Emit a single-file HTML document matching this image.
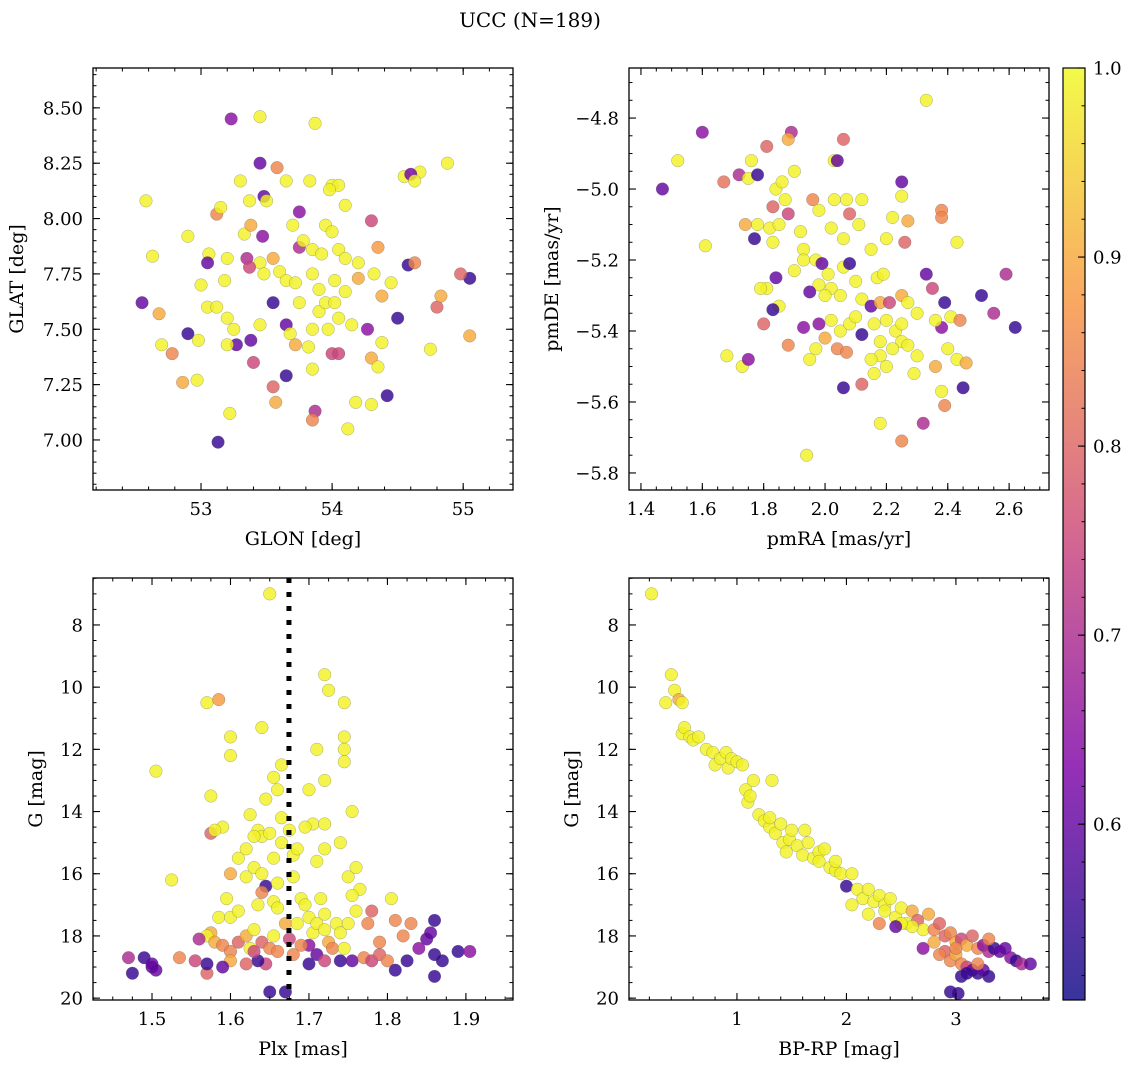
<!DOCTYPE html>
<html><head><meta charset="utf-8"><style>
html,body{margin:0;padding:0;background:#fff;}
svg{display:block;font-family:"DejaVu Serif","Liberation Serif",serif;}
</style></head><body>
<svg id="chart" width="1136" height="1067" viewBox="0 0 1136 1067" xmlns="http://www.w3.org/2000/svg">
<text x="530" y="27" font-size="20" text-anchor="middle">UCC (N=189)</text>
</svg>
<script>
// ---- data: [x, y, membership probability] ----
const glonGlat = [[53.23,8.45,0.65],[53.45,8.46,0.99],[53.87,8.43,0.99],[53.45,8.25,0.6],[53.58,8.23,0.85],[54.67,8.21,0.99],[54.88,8.25,0.99],[54.55,8.19,0.99],[54.6,8.2,0.62],[54.63,8.17,0.99],[52.58,8.08,0.99],[53.3,8.17,0.99],[53.65,8.17,0.99],[53.83,8.17,0.99],[53.48,8.1,0.6],[53.37,8.08,0.99],[53.5,8.08,0.99],[53.12,8.02,0.85],[53.15,8.05,0.99],[53.75,8.03,0.65],[54.0,8.15,0.99],[54.05,8.15,0.99],[53.98,8.13,0.99],[52.9,7.92,0.99],[53.06,7.84,0.99],[53.33,7.93,0.99],[53.38,7.97,0.9],[53.47,7.92,0.65],[53.7,7.97,0.99],[53.95,7.97,0.99],[54.1,8.06,0.99],[54.3,7.99,0.75],[54.0,7.94,0.99],[52.63,7.83,0.99],[53.05,7.8,0.6],[53.2,7.82,0.99],[53.35,7.82,0.7],[53.45,7.8,0.99],[53.55,7.82,0.9],[53.75,7.87,0.7],[53.78,7.9,0.99],[53.85,7.86,0.99],[53.92,7.84,0.99],[54.05,7.86,0.99],[54.1,7.82,0.99],[54.2,7.8,0.99],[54.35,7.87,0.88],[54.58,7.79,0.55],[54.63,7.8,0.85],[52.55,7.62,0.6],[52.68,7.57,0.9],[53.0,7.7,0.99],[53.18,7.72,0.99],[53.37,7.78,0.75],[53.48,7.75,0.99],[53.6,7.76,0.99],[53.65,7.72,0.99],[53.72,7.71,0.99],[53.85,7.75,0.99],[53.9,7.68,0.99],[54.02,7.72,0.99],[54.1,7.67,0.99],[54.2,7.73,0.9],[54.32,7.75,0.99],[54.38,7.65,0.9],[54.45,7.71,0.99],[55.05,7.73,0.55],[54.98,7.75,0.8],[52.7,7.43,0.99],[52.78,7.39,0.85],[52.9,7.48,0.55],[52.98,7.45,0.99],[53.05,7.6,0.99],[53.12,7.6,0.99],[53.2,7.55,0.99],[53.25,7.5,0.99],[53.27,7.43,0.6],[53.38,7.45,0.6],[53.45,7.52,0.99],[53.55,7.62,0.55],[53.65,7.52,0.6],[53.68,7.48,0.99],[53.72,7.43,0.9],[53.85,7.5,0.99],[53.9,7.58,0.99],[53.97,7.5,0.99],[54.05,7.55,0.99],[54.15,7.52,0.99],[54.27,7.5,0.65],[54.5,7.55,0.55],[54.8,7.6,0.8],[54.83,7.65,0.9],[55.05,7.47,0.9],[54.75,7.41,0.99],[54.38,7.44,0.99],[52.86,7.26,0.9],[52.97,7.27,0.99],[53.22,7.12,0.99],[53.13,6.99,0.55],[53.55,7.24,0.8],[53.57,7.17,0.9],[53.65,7.29,0.55],[53.85,7.32,0.99],[54.0,7.39,0.75],[54.05,7.39,0.75],[54.18,7.17,0.99],[54.12,7.05,0.99],[54.3,7.37,0.9],[54.35,7.33,0.99],[54.42,7.2,0.55],[53.87,7.13,0.7],[53.85,7.09,0.85],[54.3,7.16,0.99],[53.4,7.35,0.75],[53.2,7.43,0.99],[53.75,7.62,0.99],[53.95,7.62,0.99],[54.02,7.62,0.99],[53.82,7.42,0.99]];
const pmRaDe = [[1.47,-5.0,0.6],[1.52,-4.92,0.99],[1.6,-4.84,0.65],[1.61,-5.16,0.99],[1.67,-4.98,0.82],[1.68,-5.47,0.99],[1.73,-5.5,0.99],[1.75,-5.48,0.65],[1.72,-4.96,0.7],[1.75,-4.97,0.99],[1.78,-4.96,0.55],[1.76,-4.92,0.99],[1.81,-4.88,0.8],[1.84,-5.0,0.99],[1.86,-4.98,0.99],[1.89,-4.84,0.7],[1.88,-4.86,0.9],[1.9,-4.95,0.99],[1.87,-5.03,0.99],[1.88,-5.07,0.75],[1.83,-5.05,0.8],[1.78,-5.1,0.99],[1.74,-5.1,0.9],[1.77,-5.14,0.55],[1.82,-5.11,0.99],[1.85,-5.1,0.99],[1.83,-5.15,0.99],[1.92,-5.12,0.99],[1.93,-5.17,0.99],[1.96,-5.03,0.85],[1.98,-5.06,0.99],[2.03,-4.92,0.99],[2.04,-4.92,0.6],[2.06,-4.86,0.8],[2.03,-5.03,0.99],[2.07,-5.03,0.99],[2.12,-5.03,0.99],[2.08,-5.07,0.8],[2.02,-5.11,0.99],[2.06,-5.14,0.99],[2.11,-5.1,0.99],[2.15,-5.17,0.99],[2.2,-5.14,0.99],[2.22,-5.08,0.99],[2.25,-4.98,0.6],[2.25,-5.02,0.99],[2.27,-5.09,0.9],[2.33,-4.75,0.99],[2.38,-5.06,0.85],[2.38,-5.08,0.85],[2.43,-5.15,0.99],[2.26,-5.15,0.8],[1.84,-5.25,0.6],[1.81,-5.28,0.99],[1.79,-5.28,0.99],[1.85,-5.33,0.99],[1.83,-5.34,0.55],[1.9,-5.23,0.99],[1.93,-5.2,0.99],[1.97,-5.2,0.99],[1.99,-5.21,0.6],[2.01,-5.24,0.99],[2.06,-5.22,0.99],[2.08,-5.21,0.55],[2.02,-5.28,0.99],[1.98,-5.27,0.99],[1.95,-5.29,0.6],[2.0,-5.3,0.99],[2.05,-5.3,0.99],[2.1,-5.26,0.99],[2.12,-5.31,0.99],[2.15,-5.33,0.6],[2.17,-5.25,0.99],[2.19,-5.24,0.99],[2.18,-5.32,0.9],[2.21,-5.32,0.75],[2.25,-5.3,0.9],[2.27,-5.32,0.99],[2.3,-5.35,0.99],[2.33,-5.24,0.6],[2.35,-5.28,0.75],[2.39,-5.32,0.55],[2.41,-5.36,0.99],[2.51,-5.3,0.55],[2.55,-5.35,0.7],[2.59,-5.24,0.7],[2.62,-5.39,0.55],[2.44,-5.37,0.85],[2.38,-5.39,0.65],[2.36,-5.37,0.99],[1.8,-5.38,0.8],[1.88,-5.44,0.85],[1.93,-5.39,0.65],[1.98,-5.38,0.65],[2.0,-5.42,0.9],[2.02,-5.37,0.99],[2.05,-5.4,0.99],[2.08,-5.38,0.99],[2.1,-5.36,0.99],[2.12,-5.41,0.55],[2.16,-5.38,0.99],[2.2,-5.37,0.99],[2.23,-5.4,0.99],[2.25,-5.43,0.99],[2.27,-5.44,0.99],[2.22,-5.45,0.99],[2.18,-5.47,0.99],[2.15,-5.48,0.99],[2.2,-5.5,0.99],[2.3,-5.47,0.99],[2.29,-5.52,0.99],[2.36,-5.5,0.9],[2.4,-5.45,0.99],[2.43,-5.48,0.99],[2.46,-5.49,0.9],[2.04,-5.45,0.85],[2.07,-5.46,0.85],[1.95,-5.48,0.99],[1.97,-5.45,0.99],[2.06,-5.56,0.55],[2.12,-5.55,0.8],[2.16,-5.52,0.99],[2.18,-5.66,0.99],[2.25,-5.71,0.85],[2.32,-5.66,0.7],[2.38,-5.57,0.99],[2.39,-5.61,0.85],[2.45,-5.56,0.55],[1.94,-5.75,0.99],[2.25,-5.38,0.99],[2.18,-5.43,0.99]];
const plxG = [[1.65,7.0,0.99],[1.57,10.5,0.99],[1.585,10.4,0.88],[1.505,12.7,0.99],[1.525,16.2,0.99],[1.6,11.6,0.99],[1.6,12.2,0.99],[1.575,13.5,0.99],[1.64,11.3,0.99],[1.655,12.9,0.99],[1.665,12.5,0.99],[1.66,13.3,0.99],[1.665,14.2,0.99],[1.72,9.6,0.99],[1.725,10.1,0.99],[1.745,10.5,0.99],[1.745,11.6,0.99],[1.745,12.0,0.99],[1.745,12.4,0.99],[1.71,12.0,0.99],[1.72,13.0,0.99],[1.7,13.3,0.99],[1.705,14.4,0.99],[1.695,14.5,0.99],[1.72,14.4,0.99],[1.71,15.6,0.99],[1.72,15.2,0.99],[1.74,15.0,0.99],[1.755,14.0,0.99],[1.75,16.1,0.99],[1.76,15.8,0.99],[1.765,16.5,0.99],[1.755,16.7,0.99],[1.645,13.6,0.99],[1.625,14.1,0.99],[1.635,14.6,0.99],[1.64,14.8,0.99],[1.63,14.8,0.99],[1.65,14.7,0.99],[1.59,14.5,0.99],[1.575,14.7,0.8],[1.58,14.6,0.99],[1.61,15.5,0.99],[1.62,15.2,0.99],[1.62,16.1,0.99],[1.63,15.8,0.99],[1.64,16.0,0.99],[1.645,16.4,0.55],[1.64,16.6,0.85],[1.66,16.3,0.99],[1.655,16.9,0.99],[1.66,17.1,0.99],[1.6,16.0,0.9],[1.595,16.8,0.99],[1.585,17.4,0.99],[1.575,17.9,0.9],[1.57,18.0,0.99],[1.56,18.1,0.7],[1.58,18.2,0.9],[1.59,18.3,0.85],[1.6,18.5,0.85],[1.61,18.2,0.8],[1.62,18.0,0.9],[1.625,18.4,0.99],[1.63,17.8,0.99],[1.64,18.2,0.8],[1.65,18.4,0.85],[1.655,18.0,0.99],[1.66,18.5,0.85],[1.645,18.9,0.75],[1.635,18.8,0.55],[1.62,18.9,0.8],[1.6,18.8,0.9],[1.59,19.0,0.6],[1.57,19.2,0.8],[1.57,18.9,0.55],[1.555,18.8,0.75],[1.535,18.7,0.85],[1.47,18.7,0.7],[1.475,19.2,0.55],[1.49,18.7,0.55],[1.5,19.0,0.6],[1.5,18.9,0.6],[1.505,19.1,0.6],[1.65,19.8,0.55],[1.67,19.8,0.55],[1.67,17.6,0.9],[1.685,17.6,0.99],[1.69,16.8,0.99],[1.695,17.0,0.99],[1.7,17.4,0.99],[1.705,17.9,0.99],[1.71,17.6,0.99],[1.715,16.8,0.99],[1.72,17.3,0.99],[1.72,17.8,0.99],[1.725,18.2,0.9],[1.73,18.4,0.85],[1.735,17.6,0.99],[1.74,17.9,0.99],[1.745,18.4,0.99],[1.75,17.6,0.99],[1.76,17.2,0.99],[1.7,18.3,0.65],[1.71,18.6,0.6],[1.72,18.8,0.75],[1.7,18.9,0.55],[1.69,18.3,0.85],[1.74,18.8,0.55],[1.755,18.8,0.6],[1.77,18.7,0.85],[1.775,17.6,0.85],[1.78,18.8,0.75],[1.79,18.6,0.8],[1.8,18.8,0.85],[1.805,16.8,0.99],[1.81,17.5,0.85],[1.82,18.0,0.85],[1.83,17.6,0.85],[1.825,18.8,0.55],[1.84,18.4,0.65],[1.85,18.1,0.6],[1.86,17.5,0.55],[1.855,17.9,0.6],[1.86,18.6,0.55],[1.87,18.8,0.55],[1.86,19.3,0.55],[1.89,18.5,0.55],[1.905,18.5,0.65],[1.81,19.1,0.55],[1.78,17.2,0.8],[1.79,18.2,0.85],[1.6,17.4,0.99],[1.61,17.2,0.99],[1.635,17.0,0.99],[1.63,18.5,0.75],[1.68,18.6,0.85],[1.675,18.1,0.75],[1.68,15.4,0.99],[1.675,14.6,0.99],[1.685,15.2,0.99],[1.68,16.1,0.99],[1.655,15.5,0.99],[1.665,15.0,0.99]];
const colorG = [[0.22,7.0,0.99],[0.35,10.5,0.99],[0.4,9.6,0.99],[0.43,10.1,0.99],[0.47,10.4,0.9],[0.5,10.5,0.99],[0.5,11.5,0.99],[0.52,11.3,0.99],[0.57,11.6,0.99],[0.6,11.7,0.99],[0.65,11.6,0.99],[0.72,12.0,0.99],[0.78,12.1,0.99],[0.8,12.5,0.99],[0.85,12.3,0.99],[0.9,12.1,0.99],[0.92,12.6,0.99],[0.95,12.3,0.99],[1.0,12.4,0.99],[1.05,12.5,0.99],[1.08,13.3,0.99],[1.1,13.7,0.99],[1.12,13.5,0.99],[1.15,13.0,0.99],[1.2,14.1,0.99],[1.25,14.3,0.99],[1.3,14.5,0.99],[1.32,13.0,0.99],[1.35,14.7,0.99],[1.4,14.4,0.99],[1.42,15.0,0.99],[1.45,15.3,0.99],[1.48,14.9,0.99],[1.5,14.6,0.99],[1.55,15.1,0.99],[1.6,15.4,0.99],[1.65,15.0,0.99],[1.7,15.5,0.99],[1.75,15.3,0.99],[1.8,15.2,0.99],[1.85,15.8,0.99],[1.9,15.9,0.99],[1.95,16.0,0.99],[2.0,16.4,0.55],[2.05,16.0,0.99],[2.1,16.5,0.99],[2.15,16.8,0.99],[2.2,16.5,0.99],[2.25,16.9,0.99],[2.3,16.7,0.99],[2.35,17.0,0.99],[2.4,16.8,0.99],[2.45,17.4,0.99],[2.5,17.1,0.99],[2.55,17.6,0.99],[2.6,17.2,0.9],[2.65,17.5,0.8],[2.7,17.8,0.99],[2.75,17.3,0.9],[2.8,17.8,0.85],[2.85,17.6,0.8],[2.9,18.0,0.8],[2.95,17.9,0.85],[3.0,18.2,0.9],[3.05,18.1,0.75],[3.1,18.3,0.9],[3.15,18.0,0.8],[3.2,18.4,0.85],[3.25,18.3,0.65],[3.3,18.5,0.7],[3.35,18.4,0.55],[3.4,18.5,0.6],[3.45,18.4,0.6],[3.5,18.7,0.65],[3.55,18.8,0.55],[3.6,18.9,0.7],[3.68,18.9,0.6],[2.9,18.5,0.8],[2.95,18.8,0.85],[3.0,18.6,0.9],[3.05,18.9,0.85],[3.1,19.0,0.75],[3.15,19.1,0.6],[3.2,19.2,0.55],[3.25,19.1,0.6],[3.3,19.3,0.55],[3.05,19.3,0.55],[3.1,19.2,0.55],[2.95,19.8,0.55],[3.02,19.85,0.55],[2.85,18.6,0.85],[2.8,18.2,0.9],[2.7,18.4,0.65],[2.6,17.7,0.99],[2.5,17.6,0.99],[2.3,17.6,0.85],[2.2,17.3,0.99],[2.05,17.0,0.99],[2.45,17.7,0.6],[2.35,17.2,0.99],[1.9,15.6,0.99],[1.75,15.6,0.99],[1.62,14.6,0.99],[1.3,14.2,0.99],[3.2,18.9,0.85],[3.3,18.1,0.85],[3.0,18.4,0.85]];
const plxMedian = [1.6745];
const cbTicks = [0.6,0.7,0.8,0.9,1.0];
const cbRange = [0.507,1.0];

const NS='http://www.w3.org/2000/svg';
const svg=document.getElementById('chart');
function mk(tag,attrs,parent){const e=document.createElementNS(NS,tag);for(const k in attrs)e.setAttribute(k,attrs[k]);(parent||svg).appendChild(e);return e;}
const stops=[[0,[13,8,135]],[0.25,[126,3,168]],[0.5,[204,71,120]],[0.75,[248,149,64]],[1,[240,249,33]]];
function plasma(t){t=Math.max(0,Math.min(1,t));for(let i=1;i<stops.length;i++){if(t<=stops[i][0]){const a=stops[i-1],b=stops[i];const f=(t-a[0])/(b[0]-a[0]);const c=a[1].map((v,j)=>Math.round(v+(b[1][j]-v)*f));return `rgb(${c[0]},${c[1]},${c[2]})`;}}return 'rgb(240,249,33)';}
function pcol(p){return plasma((p-cbRange[0])/(cbRange[1]-cbRange[0]));}
function fmt(v,d){return v.toFixed(d).replace('-','\u2212');}

function panel(o){
  const g=mk('g',{});
  
  
  const X0=o.box[0],Y0=o.box[1],W=o.box[2],H=o.box[3];
  const sx=v=>X0+(v-o.xr[0])/(o.xr[1]-o.xr[0])*W;
  const sy=v=>o.yinv? Y0+(v-o.yr[0])/(o.yr[1]-o.yr[0])*H : Y0+H-(v-o.yr[0])/(o.yr[1]-o.yr[0])*H;
  o.data.forEach(d=>{
    const c=mk('circle',{cx:sx(d[0]),cy:sy(d[1]),r:6.3,fill:pcol(d[2]),'fill-opacity':0.82,stroke:'#555','stroke-width':0.4,'stroke-opacity':0.6},g);
    
    
  });
  if(o.vline){o.vline.forEach(v=>{const l=mk('line',{x1:sx(v),x2:sx(v),y1:Y0,y2:Y0+H,stroke:'#000','stroke-width':5,'stroke-dasharray':'5 9'},g);
    
    });}
  mk('rect',{x:X0,y:Y0,width:W,height:H,fill:'none',stroke:'#000','stroke-width':1.3},g);
  const eps=1e-9;
  function ticks(lo,hi,step){const a=[];for(let v=Math.ceil((lo-eps)/step)*step;v<=hi+eps;v+=step)a.push(+v.toFixed(6));return a;}
  ticks(o.xr[0],o.xr[1],o.xminor).forEach(v=>{const x=sx(v);mk('line',{x1:x,x2:x,y1:Y0+H,y2:Y0+H-3.5,stroke:'#000','stroke-width':1},g);mk('line',{x1:x,x2:x,y1:Y0,y2:Y0+3.5,stroke:'#000','stroke-width':1},g);});
  ticks(Math.min(...o.yr),Math.max(...o.yr),o.yminor).forEach(v=>{const y=sy(v);mk('line',{x1:X0,x2:X0+3.5,y1:y,y2:y,stroke:'#000','stroke-width':1},g);mk('line',{x1:X0+W,x2:X0+W-3.5,y1:y,y2:y,stroke:'#000','stroke-width':1},g);});
  o.xt.forEach(v=>{const x=sx(v);mk('line',{x1:x,x2:x,y1:Y0+H,y2:Y0+H-7,stroke:'#000','stroke-width':1.1},g);mk('line',{x1:x,x2:x,y1:Y0,y2:Y0+7,stroke:'#000','stroke-width':1.1},g);
    const t=mk('text',{x:x,y:Y0+H+25,'font-size':18,'text-anchor':'middle'},g);t.textContent=fmt(v,o.xd);
    });
  o.yt.forEach(v=>{const y=sy(v);mk('line',{x1:X0,x2:X0+7,y1:y,y2:y,stroke:'#000','stroke-width':1.1},g);mk('line',{x1:X0+W,x2:X0+W-7,y1:y,y2:y,stroke:'#000','stroke-width':1.1},g);
    const t=mk('text',{x:X0-10,y:y+6.5,'font-size':18,'text-anchor':'end'},g);t.textContent=fmt(v,o.yd);
    });
  const xl=mk('text',{x:X0+W/2,y:Y0+H+55,'font-size':19,'text-anchor':'middle'},g);xl.textContent=o.xlabel;
  
  const yx=o.ylx, yy=Y0+H/2;
  const yl=mk('text',{x:yx,y:yy,'font-size':19,'text-anchor':'middle',transform:`rotate(-90 ${yx} ${yy})`},g);yl.textContent=o.ylabel;
  
}
panel({name:'glon-glat-panel',box:[93,68,420,422],xr:[52.176,55.38],yr:[6.774,8.68],data:glonGlat,xt:[53,54,55],xd:0,yt:[7.0,7.25,7.5,7.75,8.0,8.25,8.5],yd:2,xminor:0.2,yminor:0.05,xlabel:'GLON [deg]',ylabel:'GLAT [deg]',ylx:23});
panel({name:'proper-motion-panel',box:[629,68,420,422],xr:[1.361,2.73],yr:[-5.848,-4.659],data:pmRaDe,xt:[1.4,1.6,1.8,2.0,2.2,2.4,2.6],xd:1,yt:[-5.8,-5.6,-5.4,-5.2,-5.0,-4.8],yd:1,xminor:0.05,yminor:0.05,xlabel:'pmRA [mas/yr]',ylabel:'pmDE [mas/yr]',ylx:558});
panel({name:'parallax-magnitude-panel',box:[93,578,420,422],xr:[1.4248,1.96],yr:[6.49,20.06],yinv:true,data:plxG,vline:plxMedian,xt:[1.5,1.6,1.7,1.8,1.9],xd:1,yt:[8,10,12,14,16,18,20],yd:0,xminor:0.025,yminor:0.5,xlabel:'Plx [mas]',ylabel:'G [mag]',ylx:42});
panel({name:'cmd-panel',box:[629,578,420,422],xr:[0.014,3.85],yr:[6.49,20.06],yinv:true,data:colorG,xt:[1,2,3],xd:0,yt:[8,10,12,14,16,18,20],yd:0,xminor:0.2,yminor:0.5,xlabel:'BP-RP [mag]',ylabel:'G [mag]',ylx:578});

const cb=mk('g',{});


const defs=mk('defs',{},cb);
const lg=mk('linearGradient',{id:'cbg',x1:0,y1:1,x2:0,y2:0},defs);
for(let i=0;i<=20;i++){const t=i/20;mk('stop',{offset:t,'stop-color':plasma(t),'stop-opacity':0.82},lg);}
const CX=1063,CY=68,CW=22,CH=932;
mk('rect',{x:CX,y:CY,width:CW,height:CH,fill:'url(#cbg)',stroke:'#000','stroke-width':1.2},cb);
const cby=v=>CY+CH-(v-cbRange[0])/(cbRange[1]-cbRange[0])*CH;
for(let v=0.52;v<=1.0001;v+=0.02){const y=cby(v);mk('line',{x1:CX+CW,x2:CX+CW-3.5,y1:y,y2:y,stroke:'#000','stroke-width':1},cb);}
cbTicks.forEach(v=>{const y=cby(v);mk('line',{x1:CX+CW,x2:CX+CW-7,y1:y,y2:y,stroke:'#000','stroke-width':1.1},cb);
  const t=mk('text',{x:CX+CW+8,y:y+6.5,'font-size':18},cb);t.textContent=v.toFixed(1);
  });
</script>
</body></html>
